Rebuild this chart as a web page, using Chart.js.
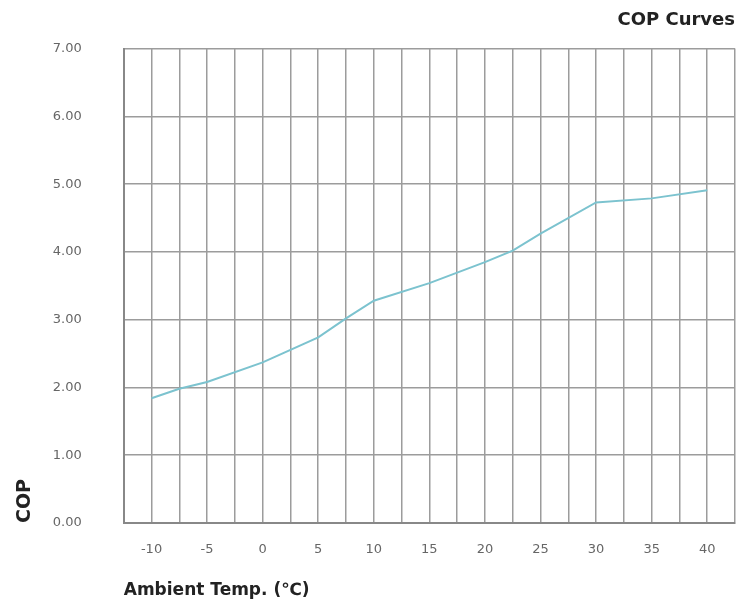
<!DOCTYPE html>
<html>
<head>
<meta charset="utf-8">
<script src="https://cdn.jsdelivr.net/npm/chart.js@4"></script>
<style>
  html, body { margin: 0; padding: 0; background: #fff; }
  #wrap { width: 750px; height: 601px; }
</style>
</head>
<body>
<div id="wrap"><canvas id="copChart"></canvas></div>
<script>
  // Ambient temperature (°C) and COP
  const temps = [-10, -7.5, -5, 0, 5, 7.5, 10, 15, 20, 22.5, 25, 30, 35, 40];
  const cop = [1.84, 1.98, 2.08, 2.37, 2.74, 3.02, 3.28, 3.54, 3.85, 4.02, 4.27, 4.73, 4.79, 4.91];
  const yTicks = [0, 1, 2, 3, 4, 5, 6, 7];

  const gridColor = "#9c9c9c";
  const fontFamily = "'DejaVu Sans', Arial, sans-serif";

  const ctx = document.getElementById("copChart").getContext("2d");
  const copChart = new Chart(ctx, {
    type: "line",
    data: {
      datasets: [
        {
          label: "COP",
          data: temps.map((t, i) => ({ x: t, y: cop[i] })),
          borderColor: "#7cc3cf",
          borderWidth: 2,
          pointRadius: 0,
          tension: 0,
          fill: false,
        },
      ],
    },
    options: {
      responsive: true,
      maintainAspectRatio: false,
      animation: false,
      layout: {
        padding: { left: 12, right: 15, top: 0, bottom: 0 },
      },
      scales: {
        x: {
          type: "linear",
          min: -12.5,
          max: 42.5,
          border: { color: "#888", width: 2 },
          // invisible tick marks give the gap between axis and labels
          grid: { color: gridColor, lineWidth: 1.5, tickLength: 19, tickColor: "transparent" },
          ticks: {
            stepSize: 2.5,
            autoSkip: false,
            maxRotation: 0,
            padding: 0,
            color: "#666",
            font: { family: fontFamily, size: 13 },
            callback: (v) => (v % 5 === 0 ? String(v) : ""),
          },
          title: {
            display: true,
            text: "Ambient Temp. (℃)",
            align: "start",
            color: "#222",
            font: { family: fontFamily, size: 17, weight: "bold" },
            padding: { top: 23, bottom: 0 },
          },
        },
        y: {
          min: 0,
          max: 7,
          border: { color: "#888", width: 2 },
          grid: { color: gridColor, lineWidth: 1.5, tickLength: 42, tickColor: "transparent" },
          afterBuildTicks: (axis) => {
            axis.ticks = yTicks.map((v) => ({ value: v }));
          },
          ticks: {
            padding: 0,
            color: "#666",
            font: { family: fontFamily, size: 13 },
            callback: (v) => v.toFixed(2),
          },
          title: {
            display: true,
            text: "COP",
            align: "start",
            color: "#222",
            font: { family: fontFamily, size: 19, weight: "bold" },
            padding: { top: 2, bottom: 16 },
          },
        },
      },
      plugins: {
        legend: { display: false },
        tooltip: { enabled: false },
        title: {
          display: true,
          text: "COP Curves",
          align: "end",
          color: "#222",
          font: { family: fontFamily, size: 18, weight: "bold" },
          padding: { top: 10, bottom: 17 },
        },
      },
    },
  });
</script>
</body>
</html>
